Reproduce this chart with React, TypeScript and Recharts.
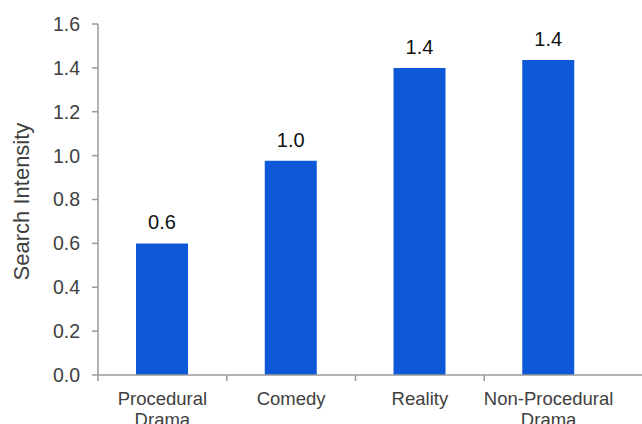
import { BarChart, Bar, XAxis, YAxis, LabelList } from 'recharts'

const GENRES = ['Procedural Drama', 'Comedy', 'Reality', 'Non-Procedural Drama']
const SEARCH_INTENSITY = [0.6, 0.977, 1.4, 1.436]
const Y_TICKS = [0, 0.2, 0.4, 0.6, 0.8, 1.0, 1.2, 1.4, 1.6]

const BAR_COLOR = '#0c58d8'
const AXIS_COLOR = '#9a9a9a'
const TEXT_GRAY = '#404040'
const FONT = '"Liberation Sans", Arial, sans-serif'

const data = GENRES.map((genre, i) => ({ genre, value: SEARCH_INTENSITY[i] }))

// Category labels wrap on spaces; tick marks sit on the band edges, not centres
function GenreTick(props: {
  x?: number
  y?: number
  payload?: { value: string; offset?: number }
}) {
  const { x = 0, y = 0, payload } = props
  const half = payload?.offset ?? 0
  const lines = (payload?.value ?? '').split(' ')
  return (
    <g>
      <line x1={x - half} x2={x - half} y1={y} y2={y + 6} stroke={AXIS_COLOR} strokeWidth={1.5} />
      <text x={x} y={y + 30} textAnchor="middle" fill={TEXT_GRAY} fontSize={18.5} fontFamily={FONT}>
        {lines.map((line, i) => (
          <tspan key={line} x={x} dy={i === 0 ? 0 : 21}>
            {line}
          </tspan>
        ))}
      </text>
    </g>
  )
}

function YTitle(props: { viewBox?: { x: number; y: number; width: number; height: number } }) {
  const vb = props.viewBox ?? { x: 0, y: 0, width: 0, height: 0 }
  const cx = vb.x + 21
  const cy = vb.y + vb.height / 2 + 2
  return (
    <text
      x={cx}
      y={cy}
      transform={`rotate(-90 ${cx} ${cy})`}
      textAnchor="middle"
      dominantBaseline="central"
      fill={TEXT_GRAY}
      fontSize={22}
      fontFamily={FONT}
    >
      Search Intensity
    </text>
  )
}

export default function App() {
  return (
    <div style={{ position: 'absolute', left: 0, top: 0, width: 642, height: 424, background: '#fff' }}>
      <BarChart
        width={642}
        height={424}
        data={data}
        margin={{ top: 24, right: 0, bottom: 0, left: 0 }}
        barCategoryGap={0}
      >
        <XAxis
          dataKey="genre"
          height={49}
          interval={0}
          padding={{ left: 0, right: 29 }}
          tickLine={false}
          tickSize={0}
          tickMargin={0}
          axisLine={{ stroke: AXIS_COLOR, strokeWidth: 1.5 }}
          tick={<GenreTick />}
        />
        <YAxis
          width={98}
          domain={[0, 1.6]}
          ticks={Y_TICKS}
          interval={0}
          tickFormatter={(v: number) => v.toFixed(1)}
          tickSize={6}
          tickMargin={12}
          tickLine={{ stroke: AXIS_COLOR, strokeWidth: 1.5 }}
          axisLine={{ stroke: AXIS_COLOR, strokeWidth: 1.5 }}
          tick={{ fill: TEXT_GRAY, fontSize: 19.5, fontFamily: FONT }}
          label={<YTitle />}
        />
        <Bar dataKey="value" fill={BAR_COLOR} barSize={52} isAnimationActive={false}>
          <LabelList
            dataKey="value"
            position="top"
            offset={14}
            formatter={(v: number) => v.toFixed(1)}
            fill="#111"
            fontSize={20}
            fontFamily={FONT}
          />
        </Bar>
      </BarChart>
    </div>
  )
}
